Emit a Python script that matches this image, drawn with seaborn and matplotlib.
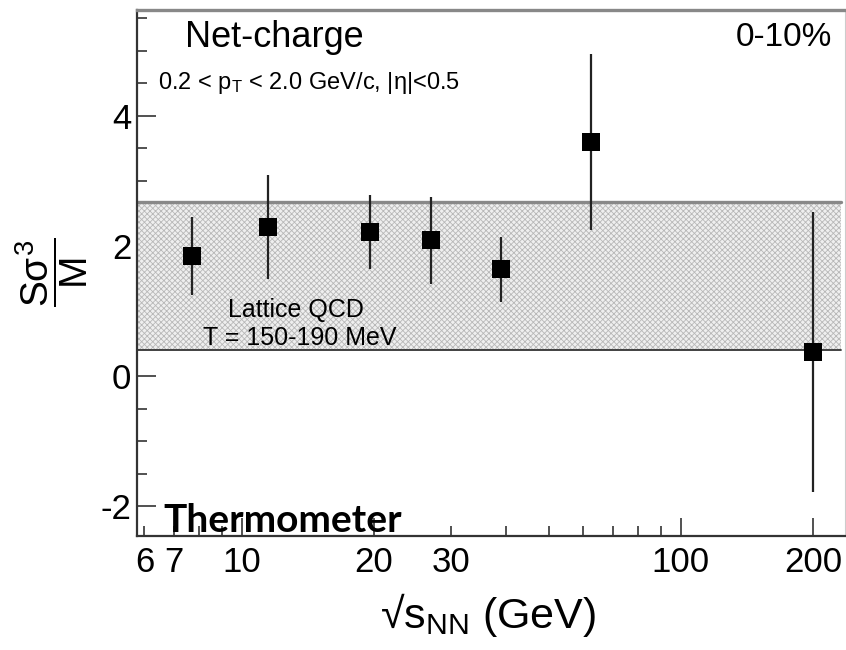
import numpy as np
import pandas as pd
import matplotlib
matplotlib.use("Agg")
import matplotlib.pyplot as plt
import seaborn as sns

# ---- data ----
energies = [7.7, 11.5, 19.6, 27.0, 39.0, 62.4, 200.0]
s_sigma3_over_m = [1.85, 2.29, 2.22, 2.09, 1.64, 3.60, 0.37]
errors = [0.60, 0.80, 0.57, 0.67, 0.50, 1.35, 2.15]
lattice_band = [0.40, 2.68]
x_major_ticks = [10, 20, 100, 200]
x_minor_ticks = [6, 7, 8, 9, 30, 40, 50, 60, 70, 80, 90]
x_minor_labels = ["6", "7", "", "", "30", "", "", "", "", "", ""]
y_major_ticks = [-2, 0, 2, 4]

df = pd.DataFrame({"energy": energies, "value": s_sigma3_over_m, "err": errors})

sns.set_theme(style="ticks")
plt.rcParams["font.family"] = ["Liberation Sans", "DejaVu Sans"]
plt.rcParams["text.color"] = "black"
plt.rcParams["axes.labelcolor"] = "black"
plt.rcParams["mathtext.fontset"] = "custom"
plt.rcParams["mathtext.rm"] = "Liberation Sans"
plt.rcParams["mathtext.it"] = "Liberation Sans"
plt.rcParams["mathtext.bf"] = "Liberation Sans:bold"
plt.rcParams["hatch.linewidth"] = 0.6
plt.rcParams["hatch.color"] = "#b8b8b8"

fig = plt.figure(figsize=(8.46, 6.5), dpi=100)
ax = fig.add_axes([137 / 846, (650 - 536) / 650, 708 / 846, 526 / 650])

ax.set_xscale("log")
ax.set_xlim(5.77, 236.6)
ax.set_ylim(-2.46, 5.63)

# lattice band
ax.fill_between([5.77, 232], lattice_band[0], lattice_band[1],
                facecolor="#efefef", hatch="xxxxxx", edgecolor="#b8b8b8",
                linewidth=0, zorder=1)
ax.plot([5.77, 232], [lattice_band[1]] * 2, color="#888888", lw=2.4, zorder=2)
ax.plot([5.77, 232], [lattice_band[0]] * 2, color="#333333", lw=1.3, zorder=2)

# error bars + markers
ax.errorbar(df["energy"], df["value"], yerr=df["err"], fmt="none",
            ecolor="#222222", elinewidth=1.6, capsize=0, zorder=3)
sns.scatterplot(data=df, x="energy", y="value", marker="s", s=150,
                color="black", edgecolor="black", linewidth=0, ax=ax, zorder=4)

# ticks
ax.set_xticks(x_major_ticks, labels=[str(t) for t in x_major_ticks])
ax.set_xticks(x_minor_ticks, labels=x_minor_labels, minor=True)
ax.set_yticks(y_major_ticks, labels=[str(t) for t in y_major_ticks])
ax.set_yticks(np.arange(-2.0, 5.6, 0.5), minor=True)
ax.tick_params(axis="both", which="both", direction="in", color="#333333",
               width=1.2, labelsize=25, labelcolor="black")
ax.tick_params(axis="x", which="major", length=13, pad=7)
ax.tick_params(axis="x", which="minor", length=7, pad=7)
ax.tick_params(axis="y", which="major", length=14, pad=4)
ax.tick_params(axis="y", which="minor", length=7)

# spines
for side in ["left", "bottom"]:
    ax.spines[side].set_color("#333333")
    ax.spines[side].set_linewidth(1.6)
ax.spines["top"].set_color("#888888")
ax.spines["top"].set_linewidth(2.4)
ax.spines["right"].set_color("#cccccc")
ax.spines["right"].set_linewidth(0.8)

ax.set_xlabel("√s$_{\\mathregular{NN}}$ (GeV)", fontsize=31, color="black")
ax.xaxis.set_label_coords(0.496, -0.105)
ax.set_ylabel(r"$\dfrac{S\sigma^3}{M}$", fontsize=28, rotation=90, color="black")
ax.yaxis.set_label_coords(-0.066, 0.502)

# annotations
ax.text(0.068, 0.947, "Net-charge", transform=ax.transAxes, fontsize=26,
        ha="left", va="center", color="black")
ax.text(0.030, 0.862, "0.2 < p$_{\\mathregular{T}}$ < 2.0 GeV/c, |η|<0.5",
        transform=ax.transAxes, fontsize=17, ha="left", va="center", color="black")
ax.text(0.982, 0.947, "0-10%", transform=ax.transAxes, fontsize=24,
        ha="right", va="center", color="black")
ax.text(0.224, 0.430, "Lattice QCD", transform=ax.transAxes, fontsize=18,
        ha="center", va="center", color="black")
ax.text(0.230, 0.377, "T = 150-190 MeV", transform=ax.transAxes, fontsize=18,
        ha="center", va="center", color="black")
ax.text(0.037, 0.030, "Thermometer", transform=ax.transAxes, fontsize=28,
        fontweight="bold", family=["Lato", "DejaVu Sans"], ha="left", va="center",
        color="black")

fig.savefig("out.png", dpi=100)
